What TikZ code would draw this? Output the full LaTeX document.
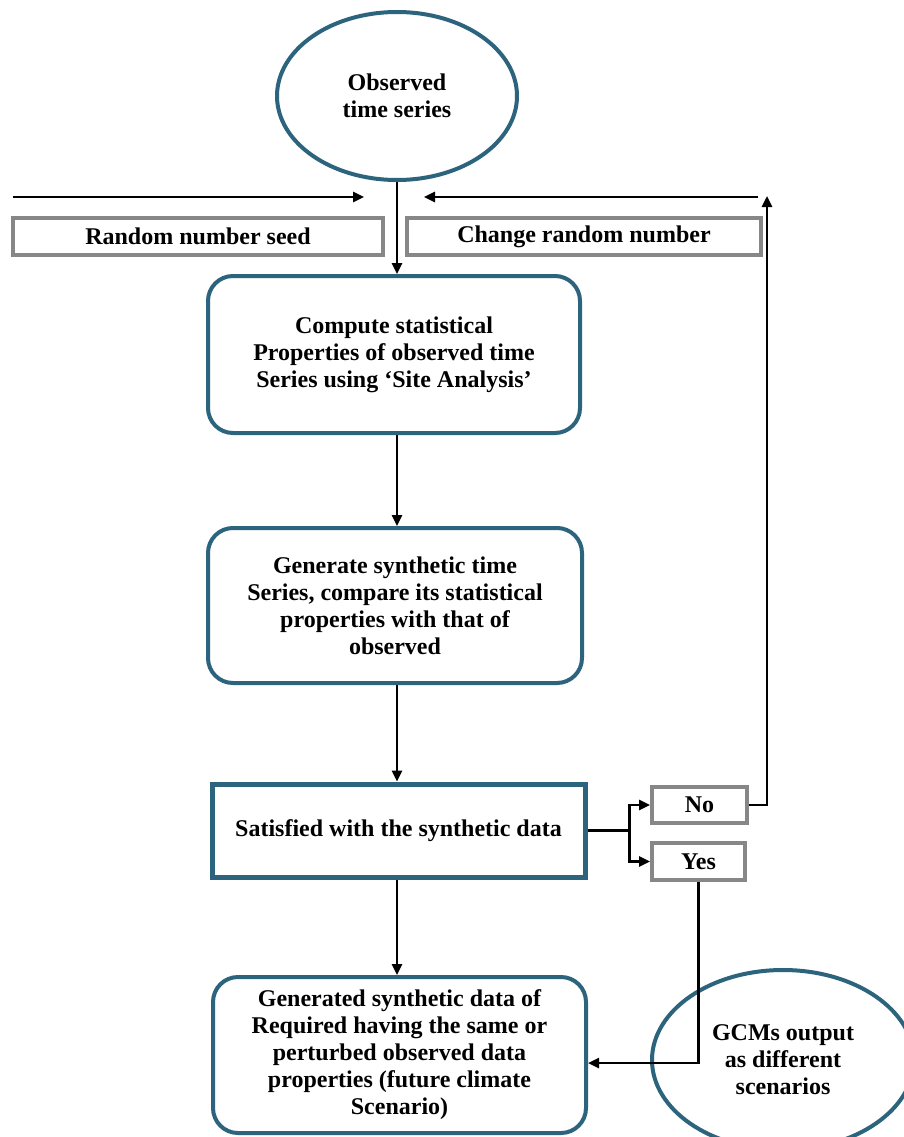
\documentclass[tikz,border=0pt]{standalone}
\usepackage{fontspec}
\setmainfont{Liberation Serif}
\usetikzlibrary{arrows.meta,shapes.geometric}
\definecolor{teal}{RGB}{45,100,125}
\definecolor{greybox}{RGB}{135,135,135}
\begin{document}
\begin{tikzpicture}[x=1pt,y=-1pt,
  every node/.style={font=\fontsize{24}{27}\selectfont\bfseries, align=center, inner sep=0pt},
  tealbox/.style={draw=teal, line width=4pt, rounded corners=25pt, fill=white},
  sqbox/.style={draw=teal, line width=5pt, fill=white},
  oval/.style={ellipse, draw=teal, line width=4pt, fill=white},
  graybox/.style={draw=greybox, line width=4pt, fill=white},
  arr/.style={line width=2.5pt, -{Triangle[length=11pt,width=10pt]}},
  ln/.style={line width=2.5pt}]
\fill[white] (0,0) rectangle (903,1137);
\useasboundingbox (0,0) rectangle (903,1137);

% nodes
\node[oval, minimum width=240pt, minimum height=168pt] (obs) at (397,96) {Observed\\time series};
\node[graybox, minimum width=370pt, minimum height=37pt] (rseed) at (198,236.5) {Random number seed};
\node[graybox, minimum width=354pt, minimum height=37pt] (crand) at (584,236.5) {Change random number};
\node[tealbox, minimum width=372pt, minimum height=157pt] (compute) at (394,354.5) {Compute statistical\\Properties of observed time\\Series using ‘Site Analysis’};
\node[tealbox, minimum width=374pt, minimum height=155pt] (generate) at (395,605.5) {Generate synthetic time\\Series, compare its statistical\\properties with that of\\observed};
\node[sqbox, minimum width=373pt, minimum height=93pt] (satisfied) at (398.5,830.5) {Satisfied with the synthetic data};
\node[graybox, minimum width=95pt, minimum height=36pt] (no) at (699.5,805) {No};
\node[graybox, minimum width=93pt, minimum height=37pt] (yes) at (698.5,861.5) {Yes};
\node[tealbox, minimum width=373pt, minimum height=156pt] (generated) at (399.5,1055) {Generated synthetic data of\\Required having the same or\\perturbed observed data\\properties (future climate\\Scenario)};
\node[oval, minimum width=262pt, minimum height=180pt] (gcm) at (783,1060) {GCMs output\\as different\\scenarios};

% free ends
\coordinate (la) at (13,197);
\coordinate (lb) at (364,197);
\coordinate (ra) at (758,197);
\coordinate (rb) at (424,197);
\coordinate (up) at (767,196);
\coordinate (yc) at (697,1063);

% connectors
\draw[arr] (la) -- (lb);
\draw[arr] (ra) -- (rb);
\draw[arr] (obs.south) -- (obs.south |- compute.north);
\draw[arr] (compute.south -| obs.south) -- (obs.south |- generate.north);
\draw[arr] (generate.south -| obs.south) -- (obs.south |- satisfied.north);
\draw[ln] (satisfied.east) -- ++(42,0) coordinate (br);
\draw[arr] (br) |- (no.west);
\draw[arr] (br) |- (yes.west);
\draw[arr] (no.east) -| (up);
\draw[arr] (satisfied.south -| obs.south) -- (obs.south |- generated.north);
\draw[arr] (yes.south) -- (yes.south |- yc) -- (yc -| generated.east);
\end{tikzpicture}
\end{document}
